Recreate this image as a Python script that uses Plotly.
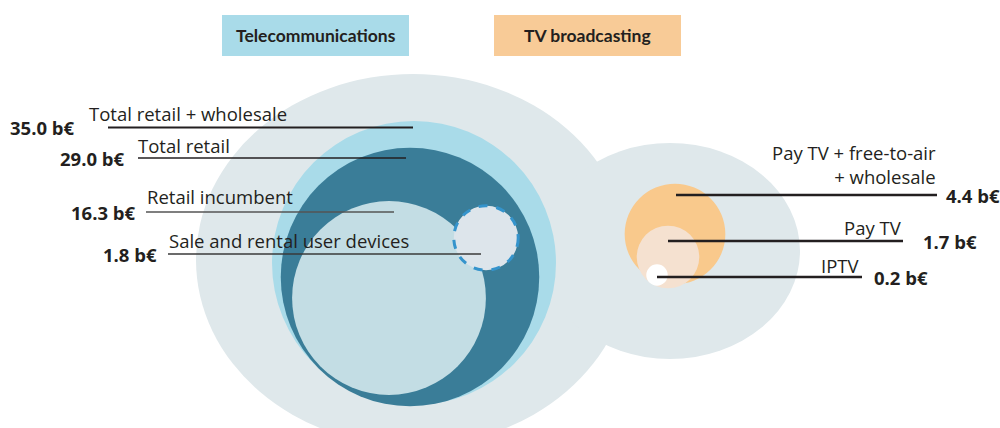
import numpy as np
import plotly.graph_objects as go

# data (billion euro)
telecom_labels = ["Total retail + wholesale", "Total retail", "Retail incumbent",
                  "Sale and rental user devices"]
telecom_values = [35.0, 29.0, 16.3, 1.8]
tv_labels = ["Pay TV + free-to-air<br>+ wholesale", "Pay TV", "IPTV"]
tv_values = [4.4, 1.7, 0.2]
groups = ["Telecommunications", "TV broadcasting"]

# layout (pixel space, 1 unit = 1 px)
K = 24.0  # radius = K * sqrt(value)
telecom_centers = [(414, 263), (410, 277), (389, 298), (486, 238)]
telecom_colors = ["#a9dbe9", "#3a7d98", "#c3dde4", "#dde5eb"]
tv_centers = [(675, 234), (668, 257), (657, 275)]
tv_colors = ["#f9c98c", "#f5e1d0", "#ffffff"]

tel_line_x = [(108, 413), (138, 406), (146, 394), (168, 481)]
tel_line_y = [127.5, 158, 212, 254]
tel_line_w = [2.2, 1.4, 1.4, 1.4]
tel_line_c = ["#231f20", "#231f20", "#555555", "#3a3a3a"]
tel_label_x = [87, 136, 145, 167]
tel_label_y = [113, 145, 196, 240]
tel_value_x = [77, 127, 138, 159]

tv_line_x = [(676, 937), (668, 903), (657, 862)]
tv_line_y = [195, 241, 277]
tv_label_x = [938, 904, 861]
tv_label_y = [164, 227, 265]
tv_value_x = [944, 921, 872]

FONT = "Open Sans"
FS = 18.5
TXT = "#231f20"

fig = go.Figure()
shapes = []
ann = []

# background blobs
bg = "#dfe8eb"
shapes.append(dict(type="circle", x0=413 - 217, x1=413 + 217, y0=260 - 186, y1=260 + 186,
                   fillcolor=bg, line_width=0, layer="below"))
shapes.append(dict(type="circle", x0=670 - 130, x1=670 + 130, y0=251 - 108, y1=251 + 108,
                   fillcolor=bg, line_width=0, layer="below"))

# nested circles
for i, v in enumerate(telecom_values):
    r = K * np.sqrt(v)
    cx, cy = telecom_centers[i]
    s = dict(type="circle", x0=cx - r, x1=cx + r, y0=cy - r, y1=cy + r,
             fillcolor=telecom_colors[i], layer="below")
    if i == 3:
        s["line"] = dict(color="#3594cc", width=3, dash="dash")
    else:
        s["line"] = dict(width=0)
    shapes.append(s)

for i, v in enumerate(tv_values):
    r = K * np.sqrt(v)
    cx, cy = tv_centers[i]
    shapes.append(dict(type="circle", x0=cx - r, x1=cx + r, y0=cy - r, y1=cy + r,
                       fillcolor=tv_colors[i], line_width=0, layer="below"))

# telecom leader lines and text
for i, v in enumerate(telecom_values):
    x0, x1 = tel_line_x[i]
    shapes.append(dict(type="line", x0=x0, x1=x1, y0=tel_line_y[i], y1=tel_line_y[i],
                       line=dict(color=tel_line_c[i], width=tel_line_w[i])))
    ann.append(dict(x=tel_label_x[i], y=tel_label_y[i], text=telecom_labels[i],
                    xanchor="left", yanchor="middle", showarrow=False,
                    font=dict(family=FONT, size=FS, color=TXT)))
    ann.append(dict(x=tel_value_x[i], y=tel_line_y[i], text="<b>%.1f b€</b>" % v,
                    xanchor="right", yanchor="middle", showarrow=False,
                    font=dict(family=FONT, size=FS, color=TXT)))

# tv leader lines and text
for i, v in enumerate(tv_values):
    x0, x1 = tv_line_x[i]
    shapes.append(dict(type="line", x0=x0, x1=x1, y0=tv_line_y[i], y1=tv_line_y[i],
                       line=dict(color=TXT, width=2.4)))
    ann.append(dict(x=tv_label_x[i], y=tv_label_y[i], text=tv_labels[i],
                    xanchor="right", yanchor="middle", align="right", showarrow=False,
                    font=dict(family=FONT, size=FS, color=TXT)))
    ann.append(dict(x=tv_value_x[i], y=tv_line_y[i], text="<b>%.1f b€</b>" % v,
                    xanchor="left", yanchor="middle", showarrow=False,
                    font=dict(family=FONT, size=FS, color=TXT)))

# header boxes
box_x = [(222, 409), (494, 681)]
box_c = ["#a9dbe9", "#f8cb97"]
for i, g in enumerate(groups):
    x0, x1 = box_x[i]
    shapes.append(dict(type="rect", x0=x0, x1=x1, y0=15, y1=56,
                       fillcolor=box_c[i], line_width=0))
    ann.append(dict(x=(x0 + x1) / 2, y=35, text="<b>%s</b>" % g,
                    xanchor="center", yanchor="middle", showarrow=False,
                    font=dict(family="Lato", size=17.5, color=TXT)))

fig.update_layout(
    width=1000, height=428,
    margin=dict(l=0, r=0, t=0, b=0),
    paper_bgcolor="white", plot_bgcolor="white",
    xaxis=dict(range=[0, 1000], visible=False, fixedrange=True),
    yaxis=dict(range=[428, 0], visible=False, fixedrange=True),
    shapes=shapes, annotations=ann, showlegend=False,
)

fig.write_html("out.html", config={"displayModeBar": False},
               post_script="document.body.style.margin='0';")
